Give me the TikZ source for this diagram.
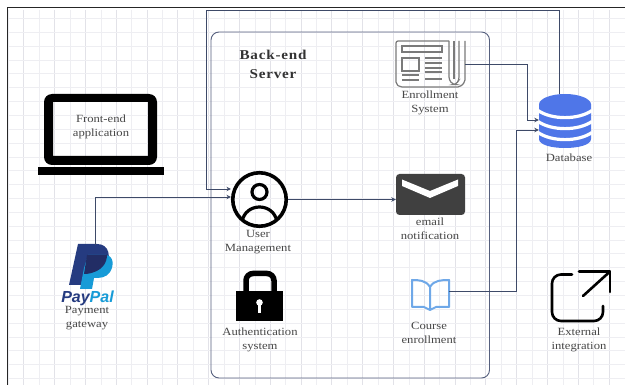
\documentclass[tikz,border=0pt]{standalone}
\usepackage{fontspec}
\setmainfont{Liberation Serif}[FakeStretch=1.15]
\newfontfamily\titlefont{Liberation Serif}[FakeStretch=1.12,LetterSpace=6]
\newfontfamily\ppfont{Liberation Sans}
\usetikzlibrary{arrows.meta}
\definecolor{gridminor}{HTML}{EEEEF2}
\definecolor{gridmajor}{HTML}{E2E2E8}
\definecolor{wire}{HTML}{3E4A68}
\definecolor{boxline}{HTML}{56607E}
\definecolor{txt}{HTML}{474747}
\definecolor{titletxt}{HTML}{333333}
\definecolor{dbblue}{HTML}{4F76E8}
\definecolor{news}{HTML}{7A7A7A}
\definecolor{mail}{HTML}{404040}
\definecolor{book}{HTML}{6FA8E8}
\definecolor{ppdark}{HTML}{253B80}
\definecolor{ppmid}{HTML}{222D65}
\definecolor{pplight}{HTML}{179BD7}
\tikzset{
  lbl/.style={text=txt,font=\fontsize{11}{14}\selectfont,align=center,inner sep=0pt},
  wireline/.style={draw=wire,line width=0.9pt},
  arrowline/.style={wireline,-{Stealth[length=4.5pt,width=4.5pt]}},
  dbgap/.style={draw=white,line width=3.2pt},
}
\begin{document}
\begin{tikzpicture}[x=1pt,y=-1pt]
\useasboundingbox (0,0) rectangle (625,385);
\fill[white] (0,0) rectangle (625,385);
% grid
\begin{scope}
\clip (8,10) rectangle (625,385);
\foreach \i in {0,...,39} {
  \pgfmathsetmacro{\xx}{8.5+15.4*\i}
  \pgfmathtruncatemacro{\m}{mod(\i,2)}
  \ifnum\m=1 \draw[gridmajor,line width=0.9pt] (\xx,10) -- (\xx,385);
  \else \draw[gridminor,line width=0.8pt] (\xx,10) -- (\xx,385); \fi
}
\foreach \i in {0,...,27} {
  \pgfmathsetmacro{\yy}{18.5+13.85*\i}
  \draw[gridminor,line width=0.9pt] (8,\yy) -- (625,\yy);
}
\end{scope}
% frame
\draw[black!85,line width=1pt] (7.5,385) -- (7.5,7.5) -- (625,7.5);
% container
\node[draw=boxline,line width=0.9pt,rounded corners=8pt,minimum width=278.5pt,minimum height=346pt,inner sep=0pt] (server) at (350.25,205) {};
\node[text=titletxt,font=\titlefont\bfseries\fontsize{13.5}{19}\selectfont,align=center,inner sep=0pt] (title) at (273,64) {Back-end\\Server};

% laptop
\node[inner sep=0pt,minimum width=113pt,minimum height=71pt] (laptop) at (100.5,129.5) {};
\fill[black,even odd rule] [rounded corners=8pt] (44,94) rectangle (157,165) [sharp corners] (53,102) rectangle (148,156);
\node[fill=black,minimum width=126pt,minimum height=8pt,inner sep=0pt] (laptopbase) at (101,171) {};
\node[lbl] (frontlbl) at (101,126.5) {Front-end\\application};

% user
\node[draw=black,circle,line width=3.6pt,minimum size=53.5pt,inner sep=0pt] (user) at (259.5,199.5) {};
\draw[black,line width=3.2pt] (259.5,192) circle (7.5);
\begin{scope}
\clip (259.5,199.5) circle (26);
\draw[black,line width=3.2pt] (242,222) .. controls (245,202) and (274,202) .. (277,222);
\end{scope}
\node[lbl] (userlbl) at (258,242) {User\\Management};

% lock
\node[fill=black,minimum width=47pt,minimum height=30pt,inner sep=0pt] (lock) at (259.5,306) {};
\draw[black,line width=5.5pt,rounded corners=7pt] (246,293) -- (246,273.5) -- (274,273.5) -- (274,293);
\fill[white] (259.5,302.5) circle (3.3);
\fill[white] (258,304) rectangle (261,313.5);
\node[lbl] (lockLbl) at (260,340) {Authentication\\system};

% paypal
\fill[ppdark] (78,244) -- (97,244) .. controls (110,244) and (111,258) .. (106,266) .. controls (102,273) and (94,274) .. (86,274) -- (83,285) -- (69,285) -- cycle;
\fill[pplight] (88,255) -- (106,255) .. controls (114,256) and (114,266) .. (110,272) .. controls (106,278) and (100,278) .. (94,278) -- (92,289) -- (80,289) -- (84,268) -- cycle;
\fill[ppmid] (87,255) -- (107,255) .. controls (107,262) and (103,272) .. (86,274) -- (84,274) -- cycle;
\node[inner sep=0pt,minimum width=42pt,minimum height=42pt] (paypal) at (95,266) {};
\node[inner sep=0pt,font=\ppfont\bfseries\itshape\fontsize{16}{16}\selectfont] (pplogo) at (87.5,298) {\textcolor{ppdark}{Pay}\textcolor{pplight}{Pal}};
\node[lbl] (paylbl) at (87,318.5) {Payment\\gateway};

% newspaper
\node[inner sep=0pt,minimum width=69pt,minimum height=46pt] (newsicon) at (430.5,64) {};
\begin{scope}[draw=news,line width=1.2pt]
\draw[rounded corners=2pt] (449,41) -- (396,41) -- (396,84) -- (400,87) -- (460,87) -- (465,82) -- (465,41);
\draw[rounded corners=3pt] (449,41) -- (449,80) -- (453,84.5) -- (456,84.5) -- (459,80) -- (459,41);
\draw (454,41) -- (454,79);
\draw (402,46) rectangle (442,52);
\draw (402,58) rectangle (419,71);
\foreach \yy in {58,63,68,72,79} \draw (425,\yy) -- (442,\yy);
\draw (402,75) -- (419,75);
\draw (402,80) -- (419,80);
\end{scope}
\node[lbl] (newslbl) at (430,103) {Enrollment\\System};

% database
\node[inner sep=0pt,minimum width=52pt,minimum height=54pt] (db) at (565,121) {};
\fill[dbblue] (539,104.5) -- (591,104.5) -- (591,139) .. controls (591,151) and (539,151) .. (539,139) -- cycle;
\draw[dbgap] (538,110.5) .. controls (552,120) and (578,120) .. (592,110.5);
\draw[dbgap] (538,121.5) .. controls (552,131) and (578,131) .. (592,121.5);
\draw[dbgap] (538,132.5) .. controls (552,142) and (578,142) .. (592,132.5);
\fill[dbblue] (565,104.5) ellipse[x radius=26,y radius=10.5];
\node[lbl] (dblbl) at (569,158) {Database};

% mail
\node[fill=mail,rounded corners=3.5pt,minimum width=69pt,minimum height=41pt,inner sep=0pt] (email) at (430.5,194.5) {};
\fill[white] (402,179.5) -- (430,191) -- (458,179.5) -- (458,186) -- (430,198) -- (402,186) -- cycle;
\node[lbl] (maillbl) at (430,229) {email\\notification};

% book
\node[inner sep=0pt,minimum width=37pt,minimum height=32pt] (bookicon) at (430,295) {};
\draw[book,line width=2pt,line join=round] (430,287) .. controls (426,280) and (418,280) .. (412,280) -- (412,307) -- (424,307) -- (430,310) -- (436,307) -- (449,307) -- (449,280) .. controls (442,280) and (434,280) .. (430,287) -- (430,309);
\node[lbl] (booklbl) at (429,332.5) {Course\\enrollment};

% external
\node[inner sep=0pt,minimum width=60pt,minimum height=52pt] (exticon) at (580,297) {};
\draw[black,line width=2.6pt,line cap=round,rounded corners=9pt] (572,274.5) -- (552,274.5) -- (552,321) -- (603,321) -- (603,306);
\draw[black,line width=2.6pt,line cap=round,line join=round] (579,271.5) -- (610,271.5) -- (610,292);
\draw[black,line width=2.6pt,line cap=round] (583,296) -- (610,271.5);
\node[lbl] (extlbl) at (579,340) {External\\integration};

% connectors
\coordinate (bendtop) at (206,10.5);
\draw[arrowline] ([xshift=-6pt]db.north) |- (bendtop) |- ([yshift=10.5pt]user.west);
\draw[arrowline] (paypal.north) |- ([yshift=2.5pt]user.west);
\draw[arrowline] (user.east) -- (email.west |- user.east);
\draw[arrowline] (newsicon.east) -| (527.5,120) -- (db.west |- 0,120);
\draw[arrowline] (bookicon.east |- 0,291) -| (516,130) -- (db.west |- 0,130);
\end{tikzpicture}
\end{document}
